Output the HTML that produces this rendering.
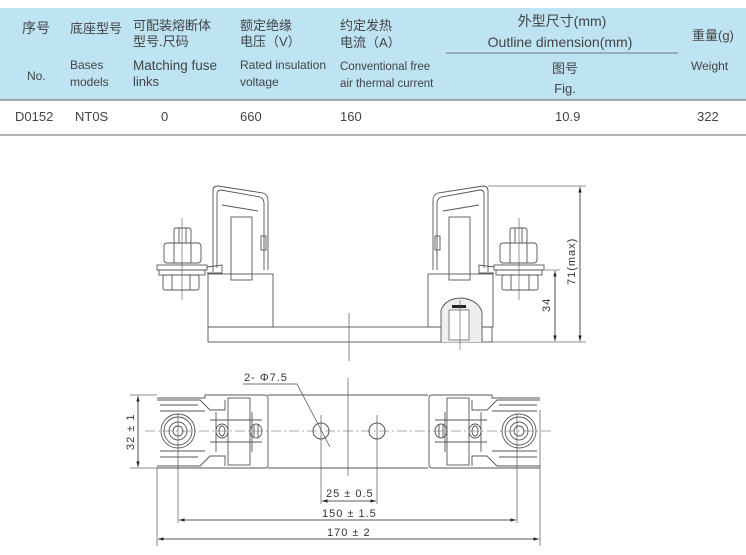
<!DOCTYPE html>
<html><head><meta charset="utf-8"><style>
body{margin:0;background:#fff;width:746px;height:555px;overflow:hidden}
svg{display:block}
.t{font-family:"Liberation Sans","Noto Sans CJK SC",sans-serif;fill:#444;font-size:13px}
.d{font-family:"Liberation Sans",sans-serif;fill:#333;font-size:11px;letter-spacing:1px}
</style></head><body>
<svg width="746" height="555" viewBox="0 0 746 555" xmlns="http://www.w3.org/2000/svg">
<defs>
<marker id="a" viewBox="0 0 10 10" refX="10" refY="5" markerWidth="7" markerHeight="7" orient="auto-start-reverse"><path d="M0,2 L10,5 L0,8z" fill="#222"/></marker>
<g id="topEnd" fill="none" stroke="#555" stroke-width="0.9">
<path d="M213,272 L213,191 Q213,186 218,186 L263,193 Q268,195 268,200 L268,270"/>
<path d="M217,268 L217,194 Q217,190 221,190 L260,197 Q264,199 264,203 L264,270"/>
<path d="M222,205 L258,211"/>
<rect x="231" y="217" width="21" height="63" fill="#fff"/>
<rect x="261" y="236" width="5" height="14"/>
<rect x="208" y="274" width="65" height="53"/>
<rect x="174" y="228" width="17" height="15" rx="2"/>
<line x1="179" y1="228" x2="179" y2="243"/><line x1="186" y1="228" x2="186" y2="243"/>
<rect x="164" y="243" width="37" height="20" rx="3"/>
<line x1="174" y1="243" x2="174" y2="263"/><line x1="191" y1="243" x2="191" y2="263"/>
<rect x="157" y="265" width="50" height="5"/><rect x="159" y="270" width="46" height="5"/>
<rect x="163" y="275" width="36" height="15" rx="2"/>
<line x1="172" y1="275" x2="172" y2="290"/><line x1="190" y1="275" x2="190" y2="290"/>
<path d="M207,267 L222,265 L222,273 L207,273"/>
<line x1="182" y1="218" x2="182" y2="300" stroke-width="0.6"/>
</g>
<g id="botEnd" fill="none" stroke="#555" stroke-width="0.9">
<path d="M157,398 L205,398 L205,395 L265,395 Q268,395 268,398 L268,465 Q268,468 265,468 L205,468 L157,468"/>
<path d="M157,400 L200,400 L210,410 L225,410 L225,400 M157,466 L200,466 L210,456 L225,456 L225,466"/>
<path d="M160,405 L198,405 M160,411 L205,411 M160,451 L205,451 M160,457 L198,457"/>
<rect x="228" y="398" width="22" height="67"/>
<path d="M210,420 L262,420 M210,442 L262,442"/>
<circle cx="178" cy="431" r="17"/><circle cx="178" cy="431" r="14"/><circle cx="178" cy="431" r="9"/><circle cx="178" cy="431" r="5"/>
<ellipse cx="222" cy="431" rx="6" ry="7"/><ellipse cx="222" cy="431" rx="3" ry="5"/>
<ellipse cx="256" cy="431" rx="6" ry="7"/><line x1="254" y1="425" x2="254" y2="437"/><line x1="258" y1="425" x2="258" y2="437"/>
<line x1="216" y1="412" x2="216" y2="452"/><line x1="252" y1="412" x2="252" y2="452"/>
</g>
</defs>
<rect x="0" y="8" width="746" height="92" fill="#bee3f2"/>
<line x1="0" y1="100" x2="746" y2="100" stroke="#777" stroke-width="1.2"/>
<line x1="0" y1="135" x2="746" y2="135" stroke="#888" stroke-width="1.2"/>
<line x1="446" y1="53" x2="678" y2="53" stroke="#777"/>
<g class="t">
<text x="22" y="33" font-size="14">序号</text>
<text x="70" y="33">底座型号</text>
<text x="133" y="30">可配装熔断体</text><text x="133" y="46">型号.尺码</text>
<text x="240" y="30">额定绝缘</text><text x="240" y="46">电压（V）</text>
<text x="340" y="30">约定发热</text><text x="340" y="47">电流（A）</text>
<text x="562" y="26" text-anchor="middle" font-size="14">外型尺寸(mm)</text>
<text x="560" y="47" text-anchor="middle" font-size="14">Outline dimension(mm)</text>
<text x="692" y="40">重量(g)</text>
<text x="27" y="80" font-size="12">No.</text>
<text x="70" y="69" font-size="12">Bases</text><text x="70" y="86" font-size="12">models</text>
<text x="133" y="70" font-size="13.5">Matching fuse</text><text x="133" y="86" font-size="13">links</text>
<text x="240" y="69" font-size="12">Rated insulation</text><text x="240" y="86" font-size="12">voltage</text>
<text x="340" y="70" font-size="11.5">Conventional free</text><text x="340" y="87" font-size="11.5">air thermal current</text>
<text x="565" y="73" text-anchor="middle">图号</text><text x="565" y="93" text-anchor="middle">Fig.</text>
<text x="691" y="70" font-size="12">Weight</text>
<text x="15" y="121">D0152</text><text x="75" y="121">NT0S</text><text x="161" y="121">0</text>
<text x="240" y="121">660</text><text x="340" y="121">160</text><text x="555" y="121">10.9</text><text x="697" y="121">322</text>
</g>
<!-- top view -->
<use href="#topEnd"/>
<use href="#topEnd" transform="translate(701,0) scale(-1,1)"/>
<rect x="208" y="327" width="284" height="15" fill="none" stroke="#555" stroke-width="0.9"/>
<path d="M441,342 L441,310 Q446,298 462,298 Q478,300 482,312 L482,342" fill="#eee" stroke="#555" stroke-width="0.9"/>
<rect x="452" y="305" width="14" height="3" fill="#222"/>
<rect x="449" y="310" width="20" height="30" fill="#fff" stroke="#555" stroke-width="0.7"/>
<line x1="460" y1="300" x2="460" y2="350" stroke="#555" stroke-width="0.6"/>
<line x1="349" y1="313" x2="349" y2="361" stroke="#555" stroke-width="0.7"/>
<line x1="488" y1="186" x2="586" y2="186" stroke="#666" stroke-width="0.7"/>
<line x1="492" y1="342" x2="586" y2="342" stroke="#666" stroke-width="0.7"/>
<line x1="545" y1="270" x2="560" y2="270" stroke="#666" stroke-width="0.7"/>
<line x1="580" y1="187" x2="580" y2="341" stroke="#222" stroke-width="0.8" marker-start="url(#a)" marker-end="url(#a)"/>
<line x1="555" y1="271" x2="555" y2="341" stroke="#222" stroke-width="0.8" marker-start="url(#a)" marker-end="url(#a)"/>
<text class="d" transform="translate(575,285) rotate(-90)">71(max)</text>
<text class="d" transform="translate(550,312) rotate(-90)">34</text>
<!-- bottom view -->
<use href="#botEnd"/>
<use href="#botEnd" transform="translate(697,0) scale(-1,1)"/>
<line x1="268" y1="395" x2="428" y2="395" stroke="#555" stroke-width="0.9"/>
<line x1="268" y1="468" x2="428" y2="468" stroke="#555" stroke-width="0.9"/>
<line x1="145" y1="431" x2="552" y2="431" stroke="#555" stroke-width="0.6" stroke-dasharray="10,3,2,3"/>
<circle cx="321" cy="431" r="8" fill="none" stroke="#555"/>
<circle cx="377" cy="431" r="8" fill="none" stroke="#555"/>
<line x1="348" y1="378" x2="348" y2="476" stroke="#555" stroke-width="0.7"/>
<line x1="130" y1="395" x2="157" y2="395" stroke="#666" stroke-width="0.7"/>
<line x1="130" y1="468" x2="157" y2="468" stroke="#666" stroke-width="0.7"/>
<line x1="138" y1="396" x2="138" y2="467" stroke="#222" stroke-width="0.8" marker-start="url(#a)" marker-end="url(#a)"/>
<text class="d" transform="translate(134,450) rotate(-90)">32 ± 1</text>
<path d="M243,384 L297,384 L330,447" fill="none" stroke="#444" stroke-width="0.7"/>
<text class="d" x="244" y="381">2- Φ7.5</text>
<g stroke="#555" stroke-width="0.7">
<line x1="321" y1="415" x2="321" y2="504"/><line x1="377" y1="415" x2="377" y2="504"/>
<line x1="178" y1="414" x2="178" y2="523"/><line x1="517" y1="414" x2="517" y2="523"/>
<line x1="157" y1="468" x2="157" y2="546"/><line x1="540" y1="410" x2="540" y2="546"/>
</g>
<g stroke="#222" stroke-width="0.8">
<line x1="322" y1="501" x2="376" y2="501" marker-start="url(#a)" marker-end="url(#a)"/>
<line x1="179" y1="520" x2="516" y2="520" marker-start="url(#a)" marker-end="url(#a)"/>
<line x1="158" y1="539" x2="539" y2="539" marker-start="url(#a)" marker-end="url(#a)"/>
</g>
<text class="d" x="326" y="497">25 ± 0.5</text>
<text class="d" x="322" y="517">150 ± 1.5</text>
<text class="d" x="327" y="536">170 ± 2</text>
</svg>
</body></html>
